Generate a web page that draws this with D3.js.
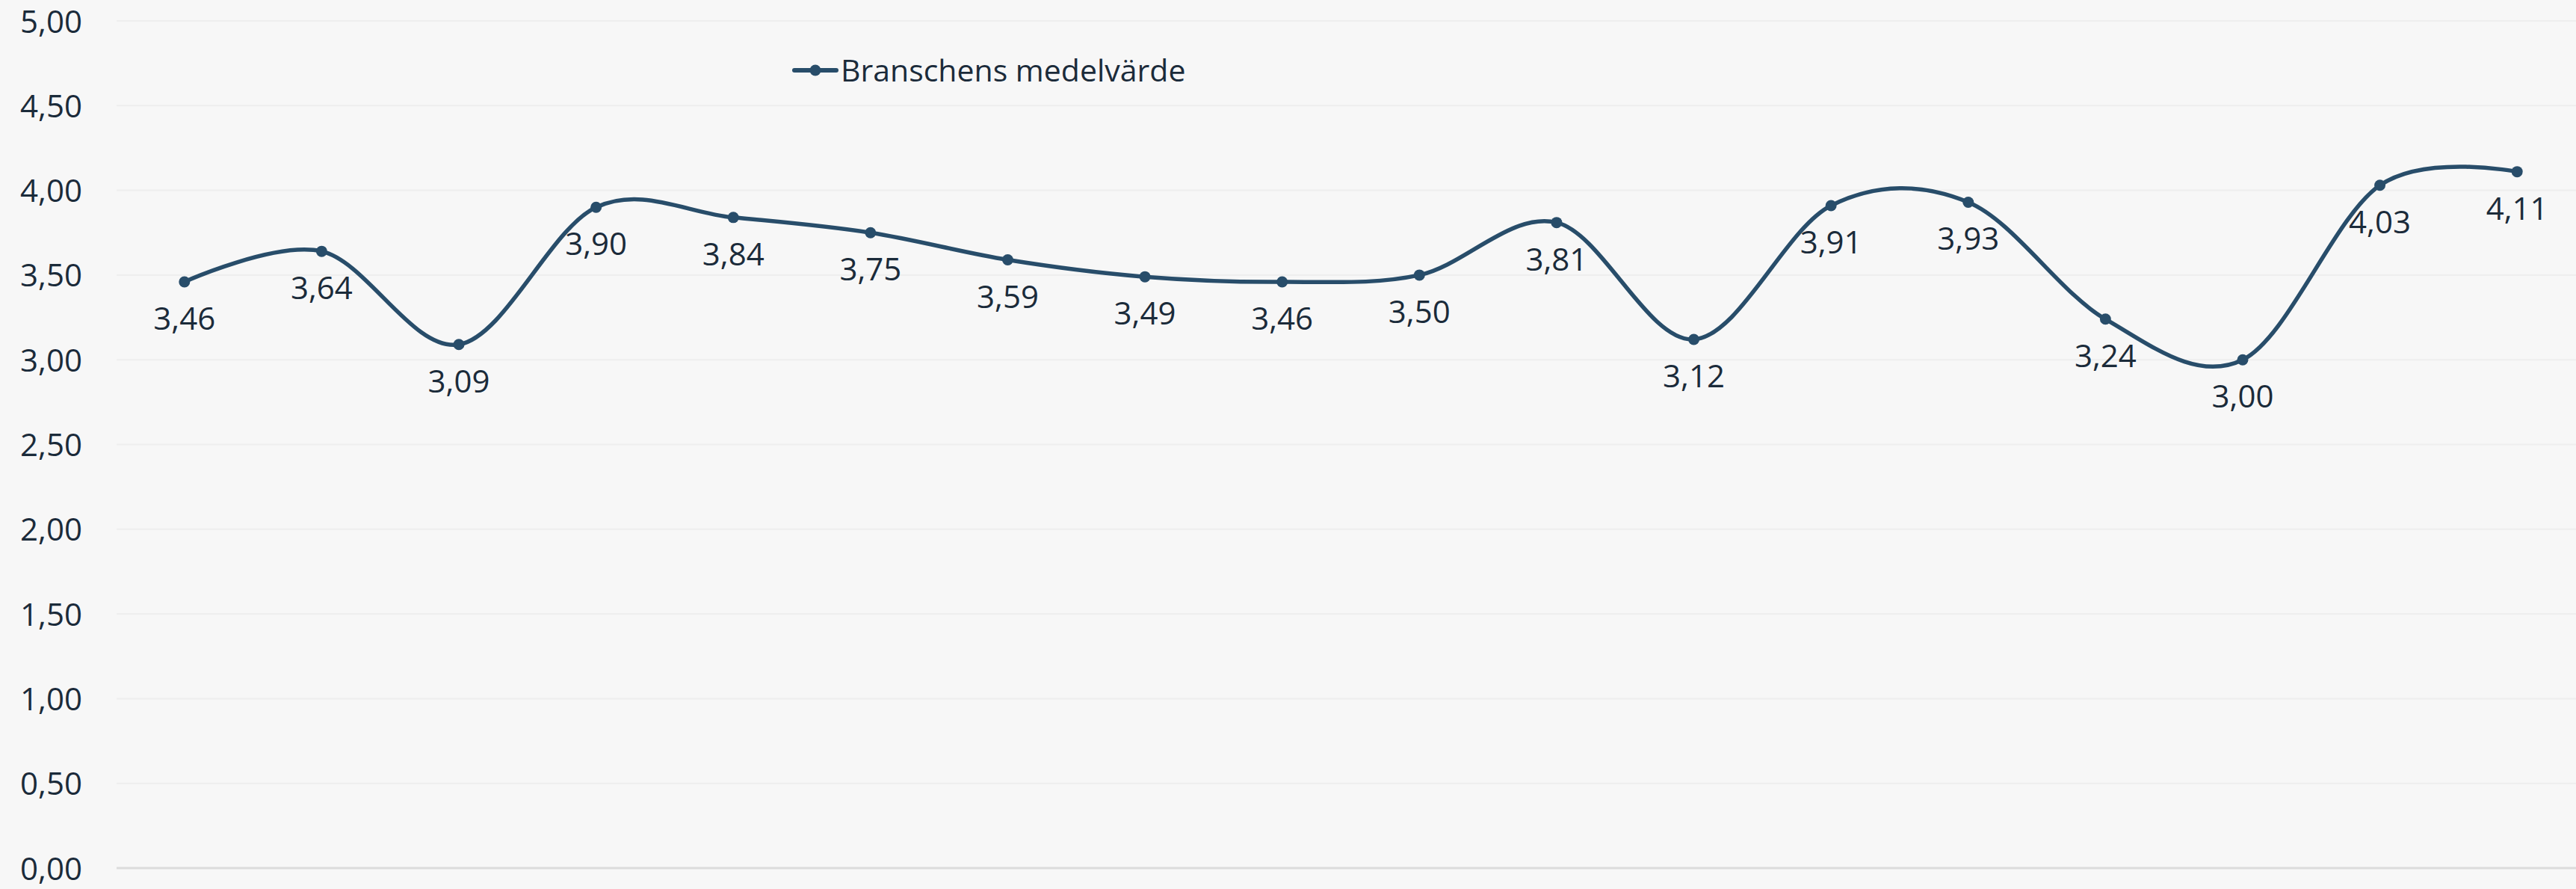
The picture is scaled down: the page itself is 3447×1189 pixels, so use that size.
<!DOCTYPE html>
<html>
<head>
<meta charset="utf-8">
<script src="https://cdn.jsdelivr.net/npm/d3@7"></script>
<style>
  html, body { margin: 0; padding: 0; background: #f7f7f7; }
  svg { display: block; }
  text { font-family: "Open Sans", "Noto Sans", sans-serif; fill: #1b2b3a; }
</style>
</head>
<body>
<svg id="chart" width="3447" height="1189"></svg>
<script>
const categories = ["1","2","3","4","5","6","7","8","9","10","11","12","13","14","15","16","17","18"];
const seriesName = "Branschens medelvärde";
const values = [3.46, 3.64, 3.09, 3.90, 3.84, 3.75, 3.59, 3.49, 3.46, 3.50, 3.81, 3.12, 3.91, 3.93, 3.24, 3.00, 4.03, 4.11];
const yTicks = [0, 0.5, 1, 1.5, 2, 2.5, 3, 3.5, 4, 4.5, 5];

const W = 3447, H = 1189;
const lineColor = "#284d6a";
const fmt = v => d3.format(".2f")(v).replace(".", ",");

const svg = d3.select("#chart");
svg.append("rect").attr("width", W).attr("height", H).attr("fill", "#f7f7f7");

const x = d3.scalePoint().domain(categories).range([155, 3460]).padding(0.5);
const y = d3.scaleLinear().domain([0, 5]).range([1161, 28]);

// gridlines
const grid = svg.append("g");
grid.selectAll("line").data(yTicks).join("line")
  .attr("x1", 156).attr("x2", W)
  .attr("y1", d => y(d)).attr("y2", d => y(d))
  .attr("stroke", d => d === 0 ? "#dcdcdc" : "#eeeeee")
  .attr("stroke-width", d => d === 0 ? 3 : 2);

// y axis via d3 axis
const yAxis = d3.axisLeft(y).tickValues(yTicks).tickFormat(fmt).tickSize(0).tickPadding(0);
const ag = svg.append("g").attr("transform", "translate(110,0)").call(yAxis);
ag.select(".domain").remove();
ag.selectAll("text")
  .attr("font-family", "Open Sans, Noto Sans, sans-serif")
  .attr("font-size", 42)
  .attr("fill", "#1b2b3a")
  .attr("dy", "0.357em");

// line
const line = d3.line()
  .x((d, i) => x(categories[i]))
  .y(d => y(d))
  .curve(d3.curveCardinal.tension(0));
svg.append("path").datum(values)
  .attr("d", line)
  .attr("fill", "none")
  .attr("stroke", lineColor)
  .attr("stroke-width", 5.5)
  .attr("stroke-linecap", "round");

// points
svg.append("g").selectAll("circle").data(values).join("circle")
  .attr("cx", (d, i) => x(categories[i]))
  .attr("cy", d => y(d))
  .attr("r", 7.5)
  .attr("fill", lineColor);

// labels
svg.append("g").selectAll("text").data(values).join("text")
  .attr("x", (d, i) => x(categories[i]))
  .attr("y", d => y(d) + 64)
  .attr("text-anchor", "middle")
  .attr("font-size", 42)
  .text(d => fmt(d));

// legend
const lg = svg.append("g");
lg.append("line").attr("x1", 1063).attr("x2", 1119).attr("y1", 94).attr("y2", 94)
  .attr("stroke", lineColor).attr("stroke-width", 6).attr("stroke-linecap", "round");
lg.append("circle").attr("cx", 1091).attr("cy", 94).attr("r", 7.5).attr("fill", lineColor);
lg.append("text").attr("x", 1125).attr("y", 109).attr("font-size", 41).text(seriesName);
</script>
</body>
</html>
